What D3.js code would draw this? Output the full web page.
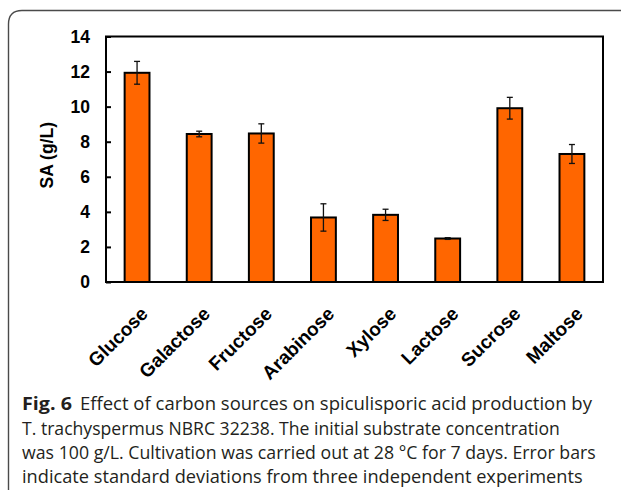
<!DOCTYPE html>
<html>
<head>
<meta charset="utf-8">
<script src="https://cdn.jsdelivr.net/npm/d3@7"></script>
<style>
  html, body { margin: 0; padding: 0; background: #fff; }
  svg { display: block; }
</style>
</head>
<body>
<svg id="chart" width="621" height="490"></svg>
<script>
// Carbon sources and spiculisporic acid titres (g/L) with standard deviations
const categories = ["Glucose", "Galactose", "Fructose", "Arabinose", "Xylose", "Lactose", "Sucrose", "Maltose"];
const saValues   = [11.93, 8.44, 8.47, 3.68, 3.83, 2.48, 9.91, 7.30];
const saErrors   = [0.65, 0.16, 0.55, 0.78, 0.32, 0.05, 0.62, 0.54];
const yTicks     = [0, 2, 4, 6, 8, 10, 12, 14];
const yTitle     = "SA (g/L)";
const captionLead = "Fig. 6";
const captionLines = [
  "Effect of carbon sources on spiculisporic acid production by",
  "T. trachyspermus NBRC 32238. The initial substrate concentration",
  "was 100 g/L. Cultivation was carried out at 28 °C for 7 days. Error bars",
  "indicate standard deviations from three independent experiments"
];

const svg = d3.select("#chart");

// Figure panel frame with a rounded top-left corner running off the page
svg.append("path")
  .attr("d", "M8.5,495 L8.5,24 Q8.5,10.5 22,10.5 L630,10.5")
  .attr("fill", "none")
  .attr("stroke", "#4a4a4a")
  .attr("stroke-width", 1.4);

const plot = { left: 106, right: 603, top: 36.5, bottom: 282 };

const x = d3.scaleBand()
  .domain(categories)
  .range([plot.left, plot.right])
  .paddingInner(0.6)
  .paddingOuter(0.3);

const y = d3.scaleLinear()
  .domain([0, 14])
  .range([plot.bottom, plot.top]);

const data = categories.map((c, i) => ({ c, v: saValues[i], e: saErrors[i] }));

// Bars
svg.append("g").selectAll("rect")
  .data(data)
  .join("rect")
  .attr("x", d => x(d.c))
  .attr("y", d => y(d.v))
  .attr("width", x.bandwidth())
  .attr("height", d => y(0) - y(d.v))
  .attr("fill", "#ff6600")
  .attr("stroke", "#000")
  .attr("stroke-width", 2);

// Error bars
const eb = svg.append("g").attr("stroke", "#111").attr("stroke-width", 1.3);
data.forEach(d => {
  const cx = x(d.c) + x.bandwidth() / 2;
  eb.append("line").attr("x1", cx).attr("x2", cx).attr("y1", y(d.v + d.e)).attr("y2", y(d.v - d.e));
  [d.v + d.e, d.v - d.e].forEach(val => {
    eb.append("line").attr("x1", cx - 3).attr("x2", cx + 3).attr("y1", y(val)).attr("y2", y(val));
  });
});

// Plot frame
svg.append("rect")
  .attr("x", plot.left).attr("y", plot.top)
  .attr("width", plot.right - plot.left).attr("height", plot.bottom - plot.top)
  .attr("fill", "none").attr("stroke", "#000").attr("stroke-width", 2);

// Y axis with inward ticks
const yAxis = svg.append("g")
  .attr("transform", `translate(${plot.left},0)`)
  .call(d3.axisLeft(y).tickValues(yTicks).tickSize(-5).tickPadding(16).tickFormat(d3.format("d")));
yAxis.select(".domain").remove();
yAxis.selectAll(".tick line").attr("stroke", "#000").attr("stroke-width", 2);
yAxis.selectAll(".tick text")
  .attr("font-family", "Liberation Sans, Arial, sans-serif")
  .attr("font-weight", "bold")
  .attr("font-size", 17.5)
  .attr("fill", "#000");

// Y title
svg.append("text")
  .attr("transform", `translate(53,${(plot.top + plot.bottom) / 2 - 4}) rotate(-90)`)
  .attr("text-anchor", "middle")
  .attr("font-family", "Liberation Sans, Arial, sans-serif")
  .attr("font-weight", "bold")
  .attr("font-size", 17.5)
  .text(yTitle);

// X category labels, rotated
const xAxis = svg.append("g")
  .attr("transform", `translate(0,${plot.bottom})`)
  .call(d3.axisBottom(x).tickSize(0).tickPadding(0));
xAxis.select(".domain").remove();
xAxis.selectAll(".tick text")
  .attr("font-family", "Liberation Sans, Arial, sans-serif")
  .attr("font-weight", "bold")
  .attr("font-size", 19)
  .attr("fill", "#000")
  .attr("text-anchor", "end")
  .attr("dy", null)
  .attr("y", 0)
  .attr("transform", "translate(12,33) rotate(-45)");

// Caption: each line is squeezed horizontally to span its measured width
const cap = svg.append("g")
  .attr("font-family", "Open Sans, Noto Sans, sans-serif")
  .attr("font-size", 18)
  .attr("fill", "#231f20");
const lineY = [410, 434.5, 459, 483];
const lineX = [80, 22, 22, 22];
const lineEnd = [592, 560, 596, 583];

function fitLine(sel, x0, y0, width) {
  const natural = sel.node().getComputedTextLength();
  const k = width / natural;
  sel.attr("x", 0).attr("y", 0)
    .attr("transform", `translate(${x0},${y0}) scale(${k},1)`);
}

const lead = cap.append("text").attr("font-weight", "bold").text(captionLead);
fitLine(lead, 22, lineY[0], 50);
captionLines.forEach((t, i) => {
  const line = cap.append("text").text(t);
  fitLine(line, lineX[i], lineY[i], lineEnd[i] - lineX[i]);
});
</script>
</body>
</html>
